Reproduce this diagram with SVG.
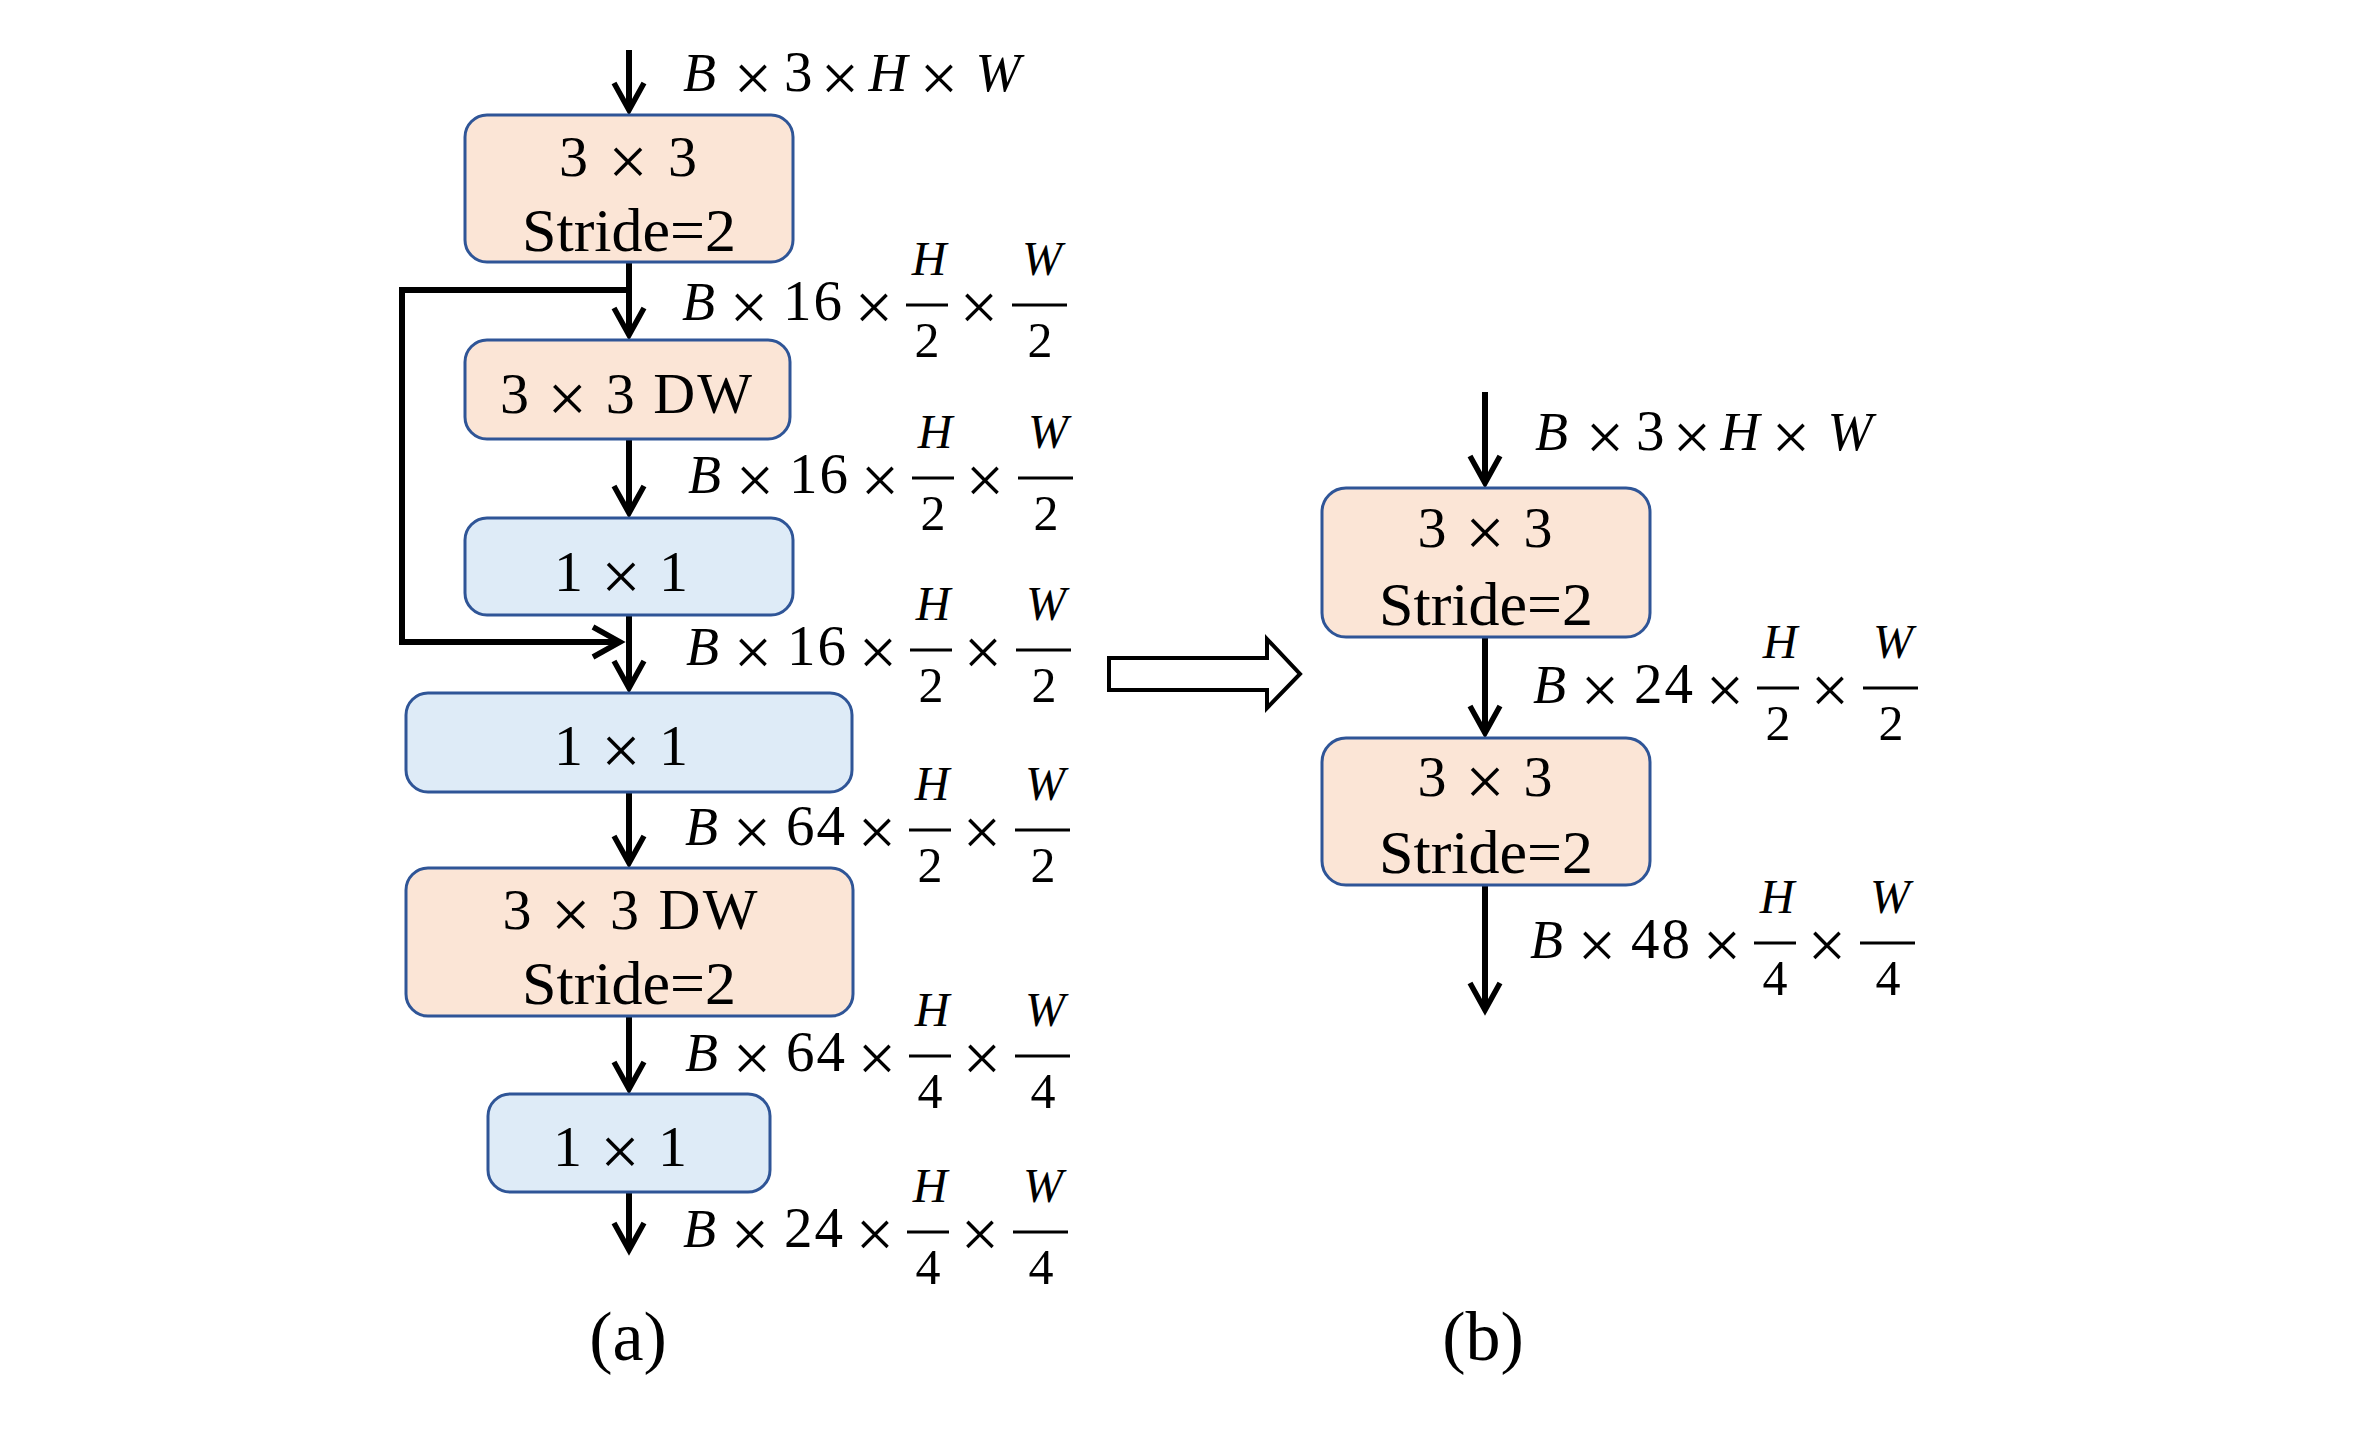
<svg xmlns="http://www.w3.org/2000/svg" width="2360" height="1430" viewBox="0 0 2360 1430">
<defs>
<style>
.peach{fill:#FBE5D6;stroke:#2F5597;stroke-width:3}
.blue{fill:#DEEBF7;stroke:#2F5597;stroke-width:3}
.bt{font-family:"Liberation Serif",serif;font-size:58px;text-anchor:middle;fill:#000}
.bx{font-size:70px}
.st{font-family:"Liberation Serif",serif;font-size:62px;text-anchor:middle;fill:#000}
.v{font-family:"Liberation Serif",serif;font-style:italic;font-size:54px;fill:#000}
.vm{font-family:"Liberation Serif",serif;font-style:italic;font-size:54px;text-anchor:middle;fill:#000}
.x{font-family:"Liberation Serif",serif;font-size:68px;text-anchor:middle;fill:#000}
.n{font-family:"Liberation Serif",serif;font-size:57px;fill:#000;letter-spacing:2px}
.fn{font-family:"Liberation Serif",serif;font-style:italic;font-size:48px;text-anchor:middle;fill:#000}
.fd{font-family:"Liberation Serif",serif;font-size:50px;text-anchor:middle;fill:#000}
.fl{stroke:#000;stroke-width:3}
.cap{font-family:"Liberation Serif",serif;font-size:70px;text-anchor:middle;fill:#000}
.conn{stroke:#000;stroke-width:6;fill:none}
</style>
<marker id="ah" markerUnits="userSpaceOnUse" markerWidth="45" markerHeight="40" viewBox="-35 -20 45 40" refX="0" refY="0" orient="auto">
<path d="M-27,-15 L0,0 L-27,15" fill="none" stroke="#000" stroke-width="5.5" stroke-linejoin="miter"/>
</marker>
</defs>
<rect width="2360" height="1430" fill="#fff"/>

<g id="connectors">
<line class="conn" x1="629" y1="50" x2="629" y2="110" marker-end="url(#ah)"/>
<line class="conn" x1="629" y1="262" x2="629" y2="335" marker-end="url(#ah)"/>
<polyline class="conn" points="629,290 402,290 402,642 620,642" marker-end="url(#ah)"/>
<line class="conn" x1="629" y1="439" x2="629" y2="513" marker-end="url(#ah)"/>
<line class="conn" x1="629" y1="615" x2="629" y2="688" marker-end="url(#ah)"/>
<line class="conn" x1="629" y1="792" x2="629" y2="863" marker-end="url(#ah)"/>
<line class="conn" x1="629" y1="1016" x2="629" y2="1089" marker-end="url(#ah)"/>
<line class="conn" x1="629" y1="1192" x2="629" y2="1250" marker-end="url(#ah)"/>
<line class="conn" x1="1485" y1="392" x2="1485" y2="483" marker-end="url(#ah)"/>
<line class="conn" x1="1485" y1="637" x2="1485" y2="733" marker-end="url(#ah)"/>
<line class="conn" x1="1485" y1="885" x2="1485" y2="1010" marker-end="url(#ah)"/>
<polygon points="1109,658 1267,658 1267,639 1300,674 1267,708 1267,690 1109,690" fill="#fff" stroke="#000" stroke-width="4" stroke-linejoin="miter"/>
</g>

<g id="a-conv1">
<rect class="peach" x="465" y="115" width="328" height="147" rx="22"/>
<text class="bt" x="628" y="176" textLength="138" lengthAdjust="spacing">3 <tspan class="bx" dy="9">×</tspan><tspan dy="-9"> 3</tspan></text>
<text class="st" x="629" y="251">Stride=2</text>
</g>
<g id="a-dw1">
<rect class="peach" x="465" y="340" width="325" height="99" rx="22"/>
<text class="bt" x="626" y="413" textLength="252" lengthAdjust="spacing">3 <tspan class="bx" dy="9">×</tspan><tspan dy="-9"> 3 DW</tspan></text>
</g>
<g id="a-pw1">
<rect class="blue" x="465" y="518" width="328" height="97" rx="22"/>
<text class="bt" x="621" y="591" textLength="134" lengthAdjust="spacing">1 <tspan class="bx" dy="9">×</tspan><tspan dy="-9"> 1</tspan></text>
</g>
<g id="a-pw2">
<rect class="blue" x="406" y="693" width="446" height="99" rx="22"/>
<text class="bt" x="621" y="765" textLength="134" lengthAdjust="spacing">1 <tspan class="bx" dy="9">×</tspan><tspan dy="-9"> 1</tspan></text>
</g>
<g id="a-dw2">
<rect class="peach" x="406" y="868" width="447" height="148" rx="22"/>
<text class="bt" x="630" y="929" textLength="255" lengthAdjust="spacing">3 <tspan class="bx" dy="9">×</tspan><tspan dy="-9"> 3 DW</tspan></text>
<text class="st" x="629" y="1004">Stride=2</text>
</g>
<g id="a-pw3">
<rect class="blue" x="488" y="1094" width="282" height="98" rx="22"/>
<text class="bt" x="620" y="1166" textLength="134" lengthAdjust="spacing">1 <tspan class="bx" dy="9">×</tspan><tspan dy="-9"> 1</tspan></text>
</g>

<g id="b-conv1">
<rect class="peach" x="1322" y="488" width="328" height="149" rx="24"/>
<text class="bt" x="1485" y="547" textLength="135" lengthAdjust="spacing">3 <tspan class="bx" dy="9">×</tspan><tspan dy="-9"> 3</tspan></text>
<text class="st" x="1486" y="625">Stride=2</text>
</g>
<g id="b-conv2">
<rect class="peach" x="1322" y="738" width="328" height="147" rx="24"/>
<text class="bt" x="1485" y="796" textLength="135" lengthAdjust="spacing">3 <tspan class="bx" dy="9">×</tspan><tspan dy="-9"> 3</tspan></text>
<text class="st" x="1486" y="873">Stride=2</text>
</g>

<g id="labels">
<g transform="translate(683,91)">
<text class="v" x="0" y="0">B</text><text class="x" x="70" y="10">×</text><text class="n" x="101" y="0">3</text><text class="x" x="157" y="10">×</text><text class="vm" x="205" y="0">H</text><text class="x" x="256" y="10">×</text><text class="vm" x="315" y="0">W</text>
</g>
<g transform="translate(1535,450)">
<text class="v" x="0" y="0">B</text><text class="x" x="70" y="10">×</text><text class="n" x="101" y="0">3</text><text class="x" x="157" y="10">×</text><text class="vm" x="205" y="0">H</text><text class="x" x="256" y="10">×</text><text class="vm" x="315" y="0">W</text>
</g>

<g transform="translate(682,320)">
<text class="v" x="0" y="0">B</text><text class="x" x="67" y="10">×</text><text class="n" x="101" y="0">16</text><text class="x" x="192" y="10">×</text>
<line class="fl" x1="224" y1="-15" x2="266" y2="-15"/><text class="fn" x="247" y="-45">H</text><text class="fd" x="245" y="37">2</text>
<text class="x" x="297" y="10">×</text>
<line class="fl" x1="330" y1="-15" x2="385" y2="-15"/><text class="fn" x="360" y="-45">W</text><text class="fd" x="358" y="37">2</text>
</g>
<g transform="translate(688,493)">
<text class="v" x="0" y="0">B</text><text class="x" x="67" y="10">×</text><text class="n" x="101" y="0">16</text><text class="x" x="192" y="10">×</text>
<line class="fl" x1="224" y1="-15" x2="266" y2="-15"/><text class="fn" x="247" y="-45">H</text><text class="fd" x="245" y="37">2</text>
<text class="x" x="297" y="10">×</text>
<line class="fl" x1="330" y1="-15" x2="385" y2="-15"/><text class="fn" x="360" y="-45">W</text><text class="fd" x="358" y="37">2</text>
</g>
<g transform="translate(686,665)">
<text class="v" x="0" y="0">B</text><text class="x" x="67" y="10">×</text><text class="n" x="101" y="0">16</text><text class="x" x="192" y="10">×</text>
<line class="fl" x1="224" y1="-15" x2="266" y2="-15"/><text class="fn" x="247" y="-45">H</text><text class="fd" x="245" y="37">2</text>
<text class="x" x="297" y="10">×</text>
<line class="fl" x1="330" y1="-15" x2="385" y2="-15"/><text class="fn" x="360" y="-45">W</text><text class="fd" x="358" y="37">2</text>
</g>
<g transform="translate(685,845)">
<text class="v" x="0" y="0">B</text><text class="x" x="67" y="10">×</text><text class="n" x="101" y="0">64</text><text class="x" x="192" y="10">×</text>
<line class="fl" x1="224" y1="-15" x2="266" y2="-15"/><text class="fn" x="247" y="-45">H</text><text class="fd" x="245" y="37">2</text>
<text class="x" x="297" y="10">×</text>
<line class="fl" x1="330" y1="-15" x2="385" y2="-15"/><text class="fn" x="360" y="-45">W</text><text class="fd" x="358" y="37">2</text>
</g>
<g transform="translate(685,1071)">
<text class="v" x="0" y="0">B</text><text class="x" x="67" y="10">×</text><text class="n" x="101" y="0">64</text><text class="x" x="192" y="10">×</text>
<line class="fl" x1="224" y1="-15" x2="266" y2="-15"/><text class="fn" x="247" y="-45">H</text><text class="fd" x="245" y="37">4</text>
<text class="x" x="297" y="10">×</text>
<line class="fl" x1="330" y1="-15" x2="385" y2="-15"/><text class="fn" x="360" y="-45">W</text><text class="fd" x="358" y="37">4</text>
</g>
<g transform="translate(683,1247)">
<text class="v" x="0" y="0">B</text><text class="x" x="67" y="10">×</text><text class="n" x="101" y="0">24</text><text class="x" x="192" y="10">×</text>
<line class="fl" x1="224" y1="-15" x2="266" y2="-15"/><text class="fn" x="247" y="-45">H</text><text class="fd" x="245" y="37">4</text>
<text class="x" x="297" y="10">×</text>
<line class="fl" x1="330" y1="-15" x2="385" y2="-15"/><text class="fn" x="360" y="-45">W</text><text class="fd" x="358" y="37">4</text>
</g>
<g transform="translate(1533,703)">
<text class="v" x="0" y="0">B</text><text class="x" x="67" y="10">×</text><text class="n" x="101" y="0">24</text><text class="x" x="192" y="10">×</text>
<line class="fl" x1="224" y1="-15" x2="266" y2="-15"/><text class="fn" x="247" y="-45">H</text><text class="fd" x="245" y="37">2</text>
<text class="x" x="297" y="10">×</text>
<line class="fl" x1="330" y1="-15" x2="385" y2="-15"/><text class="fn" x="360" y="-45">W</text><text class="fd" x="358" y="37">2</text>
</g>
<g transform="translate(1530,958)">
<text class="v" x="0" y="0">B</text><text class="x" x="67" y="10">×</text><text class="n" x="101" y="0">48</text><text class="x" x="192" y="10">×</text>
<line class="fl" x1="224" y1="-15" x2="266" y2="-15"/><text class="fn" x="247" y="-45">H</text><text class="fd" x="245" y="37">4</text>
<text class="x" x="297" y="10">×</text>
<line class="fl" x1="330" y1="-15" x2="385" y2="-15"/><text class="fn" x="360" y="-45">W</text><text class="fd" x="358" y="37">4</text>
</g>
<text class="cap" x="628" y="1360">(a)</text>
<text class="cap" x="1483" y="1360">(b)</text>
</g>
</svg>
